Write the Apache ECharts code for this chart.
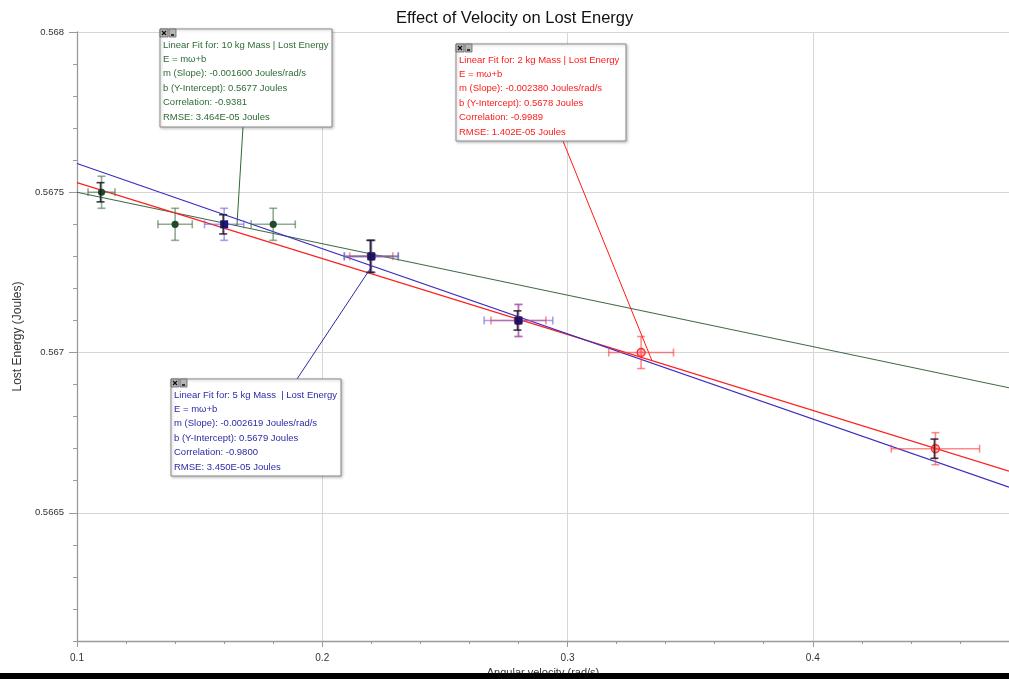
<!DOCTYPE html>
<html><head><meta charset="utf-8">
<script src="https://cdn.jsdelivr.net/npm/echarts@6/dist/echarts.min.js"></script>
<style>html,body{margin:0;padding:0;background:#fff;overflow:hidden}#c{width:1009px;height:679px;}</style>
</head><body><div id="c"></div>
<script>
// ---------- data ----------
const chartTitle = 'Effect of Velocity on Lost Energy';
const xAxisName = 'Angular velocity (rad/s)';
const yAxisName = 'Lost Energy (Joules)';
const yMajorTicks = [0.5665, 0.567, 0.5675, 0.568];
const yMinorTicks = [0.5661, 0.5662, 0.5663, 0.5664, 0.5666, 0.5667, 0.5668, 0.5669,
                     0.5671, 0.5672, 0.5673, 0.5674, 0.5676, 0.5677, 0.5678, 0.5679];
const xMinorTicks = [0.12, 0.14, 0.16, 0.18, 0.22, 0.24, 0.26, 0.28,
                     0.32, 0.34, 0.36, 0.38, 0.42, 0.44, 0.46];

const greenX = [0.11, 0.14, 0.18, 0.22];
const greenY = [0.5675, 0.5674, 0.5674, 0.5673];
const greenXErr = [0.0055, 0.007, 0.009, 0.011];
const greenYErr = [0.00005, 0.00005, 0.00005, 0.00005];

const blueX = [0.16, 0.22, 0.28];
const blueY = [0.5674, 0.5673, 0.5671];
const blueXErr = [0.008, 0.011, 0.014];
const blueYErr = [0.00005, 0.00005, 0.00005];

const redX = [0.22, 0.28, 0.33, 0.45];
const redY = [0.5673, 0.5671, 0.5670, 0.5667];
const redXErr = [0.0088, 0.0112, 0.0132, 0.018];
const redYErr = [0.00005, 0.00005, 0.00005, 0.00005];

const darkX = [0.11, 0.16, 0.22, 0.28, 0.45];
const darkY = [0.5675, 0.5674, 0.5673, 0.5671, 0.5667];
const darkYErr = [0.00003, 0.00003, 0.00005, 0.00003, 0.00003];

const fitX = [0.1, 0.48];
const greenFitY = [0.56750, 0.56689];
const redFitY = [0.56753, 0.56663];
const blueFitY = [0.56759, 0.56658];

const greenNote = ['Linear Fit for: 10 kg Mass | Lost Energy', 'E = m\u03c9+b',
  'm (Slope): -0.001600 Joules/rad/s', 'b (Y-Intercept): 0.5677 Joules',
  'Correlation: -0.9381', 'RMSE: 3.464E-05 Joules'];
const redNote = ['Linear Fit for: 2 kg Mass | Lost Energy', 'E = m\u03c9+b',
  'm (Slope): -0.002380 Joules/rad/s', 'b (Y-Intercept): 0.5678 Joules',
  'Correlation: -0.9989', 'RMSE: 1.402E-05 Joules'];
const blueNote = ['Linear Fit for: 5 kg Mass  | Lost Energy', 'E = m\u03c9+b',
  'm (Slope): -0.002619 Joules/rad/s', 'b (Y-Intercept): 0.5679 Joules',
  'Correlation: -0.9800', 'RMSE: 3.450E-05 Joules'];
const greenNoteTarget = [0.1652, 0.567395];
const redNoteTarget = [0.3344, 0.566975];
const blueNoteTarget = [0.2203, 0.56727];

// ---------- chart ----------
const FONT = '"Liberation Sans", Arial, Helvetica, sans-serif';
const chart = echarts.init(document.getElementById('c'), null, {renderer: 'canvas'});

function zip(xs, ys, exs, eys) {
  return xs.map((x, i) => [x, ys[i], exs ? exs[i] : 0, eys ? eys[i] : 0]);
}

function errRender(barColor, marker, dx) {
  return function (params, api) {
    const x = api.value(0), y = api.value(1), ex = api.value(2), ey = api.value(3);
    const c = api.coord([x, y]);
    const cx = c[0] + (dx || 0), cy = c[1];
    const st = {stroke: barColor, lineWidth: 1.6};
    const cap = 4;
    const ch = [];
    if (ex > 0) {
      const l = api.coord([x - ex, y])[0], r = api.coord([x + ex, y])[0];
      ch.push({type: 'line', shape: {x1: l, y1: cy, x2: r, y2: cy}, style: st});
      ch.push({type: 'line', shape: {x1: l, y1: cy - cap, x2: l, y2: cy + cap}, style: st});
      ch.push({type: 'line', shape: {x1: r, y1: cy - cap, x2: r, y2: cy + cap}, style: st});
    }
    if (ey > 0) {
      const t = api.coord([x, y + ey])[1], b = api.coord([x, y - ey])[1];
      ch.push({type: 'line', shape: {x1: cx, y1: t, x2: cx, y2: b}, style: st});
      ch.push({type: 'line', shape: {x1: cx - cap, y1: t, x2: cx + cap, y2: t}, style: st});
      ch.push({type: 'line', shape: {x1: cx - cap, y1: b, x2: cx + cap, y2: b}, style: st});
    }
    if (marker === 'circle') {
      ch.push({type: 'circle', shape: {cx: cx, cy: cy, r: 3.6}, style: {fill: '#1e4a29'}});
    } else if (marker === 'square') {
      ch.push({type: 'rect', shape: {x: cx - 4, y: cy - 4, width: 8, height: 8}, style: {fill: '#1c1676'}});
    } else if (marker === 'ring') {
      ch.push({type: 'circle', shape: {cx: cx, cy: cy, r: 4}, style: {fill: 'rgba(255,90,90,0.45)', stroke: '#ff2a2a', lineWidth: 1.4}});
    }
    return {type: 'group', children: ch};
  };
}

const option = {
  animation: false,
  backgroundColor: '#ffffff',
  title: {
    text: chartTitle, left: 391, top: 5,
    textStyle: {fontFamily: FONT, fontSize: 16.5, fontWeight: 'normal', color: '#111'}
  },
  grid: {left: 77, top: 32, right: 0, bottom: 38, containLabel: false, outerBoundsMode: 'none'},
  xAxis: [{
    type: 'value', position: 'bottom', min: 0.1, max: 0.48, interval: 0.1,
    name: xAxisName, nameLocation: 'middle', nameGap: 26,
    nameTextStyle: {fontFamily: FONT, fontSize: 11, color: '#333'},
    axisLine: {show: true, lineStyle: {color: '#9a9a9a', width: 1.3}},
    axisTick: {show: true, length: 6, lineStyle: {color: '#9a9a9a'}},
    axisLabel: {show: true, showMaxLabel: false, margin: 12, fontFamily: FONT, fontSize: 10, color: '#333'},
    splitLine: {show: true, lineStyle: {color: '#d6d6d6', width: 1}}
  }, {
    type: 'value', position: 'bottom', min: 0.1, max: 0.48,
    axisLine: {show: false},
    axisTick: {show: true, length: 3, customValues: xMinorTicks, lineStyle: {color: '#9a9a9a'}},
    axisLabel: {show: false},
    splitLine: {show: false}
  }],
  yAxis: [{
    type: 'value', position: 'left', min: 0.5661, max: 0.568,
    name: yAxisName, nameLocation: 'middle', nameGap: 53,
    nameTextStyle: {fontFamily: FONT, fontSize: 12, color: '#333'},
    axisLine: {show: true, lineStyle: {color: '#9a9a9a', width: 1.3}},
    axisTick: {show: true, length: 8, customValues: yMajorTicks, lineStyle: {color: '#9a9a9a'}},
    axisLabel: {show: true, customValues: yMajorTicks, margin: 13, fontFamily: FONT, fontSize: 9.5, color: '#333',
      formatter: v => String(+v.toFixed(5))},
    splitLine: {show: true, lineStyle: {color: '#d6d6d6', width: 1}}
  }, {
    type: 'value', position: 'left', min: 0.5661, max: 0.568,
    axisLine: {show: false},
    axisTick: {show: true, length: 4, customValues: yMinorTicks, lineStyle: {color: '#9a9a9a'}},
    axisLabel: {show: false},
    splitLine: {show: false}
  }],
  series: [
    {type: 'line', name: '10 kg fit', data: zip(fitX, greenFitY).map(d => [d[0], d[1]]), symbol: 'none',
      lineStyle: {color: '#3f6b47', width: 1.1}, z: 2, silent: true},
    {type: 'line', name: '2 kg fit', data: zip(fitX, redFitY).map(d => [d[0], d[1]]), symbol: 'none',
      lineStyle: {color: '#ff1e1e', width: 1.1}, z: 2, silent: true},
    {type: 'line', name: '5 kg fit', data: zip(fitX, blueFitY).map(d => [d[0], d[1]]), symbol: 'none',
      lineStyle: {color: '#3a2dbf', width: 1.1}, z: 2, silent: true},
    {type: 'custom', name: '2 kg', renderItem: errRender('rgba(255,60,60,0.6)', 'ring'),
      data: zip(redX, redY, redXErr, redYErr), z: 3, silent: true},
    {type: 'custom', name: '10 kg', renderItem: errRender('rgba(70,115,80,0.6)', 'circle'),
      data: zip(greenX, greenY, greenXErr, greenYErr), z: 4, silent: true},
    {type: 'custom', name: '5 kg', renderItem: errRender('rgba(120,95,220,0.6)', 'square'),
      data: zip(blueX, blueY, blueXErr, blueYErr), z: 5, silent: true},
    {type: 'custom', name: 'dark', renderItem: errRender('rgba(25,25,35,0.85)', null, -1),
      data: zip(darkX, darkY, null, darkYErr), z: 6, silent: true}
  ]
};
chart.setOption(option);

function noteGraphic(lines, color, box, anchor, target) {
  const tp = chart.convertToPixel({gridIndex: 0}, target);
  const [L, T, W, H] = box;
  const els = [];
  els.push({type: 'line', shape: {x1: anchor[0], y1: anchor[1], x2: tp[0], y2: tp[1]},
    style: {stroke: color, lineWidth: 1}, z: 50});
  els.push({type: 'rect', shape: {x: L, y: T, width: W, height: H},
    style: {fill: '#ffffff', stroke: '#8c8c8c', lineWidth: 1,
      shadowBlur: 3, shadowColor: 'rgba(0,0,0,0.25)', shadowOffsetX: 1, shadowOffsetY: 1}, z: 51});
  lines.forEach((t, i) => {
    els.push({type: 'text', x: L + 3, y: T + 16 + i * 14.4, z: 52,
      style: {text: t, fill: color, font: '9.5px ' + FONT, verticalAlign: 'middle', textVerticalAlign: 'middle'}});
  });
  // window icons
  els.push({type: 'rect', shape: {x: L, y: T, width: 8, height: 8}, style: {fill: '#b5b5b5', stroke: '#666', lineWidth: 0.8}, z: 53});
  els.push({type: 'line', shape: {x1: L + 2, y1: T + 2, x2: L + 6, y2: T + 6}, style: {stroke: '#111', lineWidth: 1.2}, z: 54});
  els.push({type: 'line', shape: {x1: L + 6, y1: T + 2, x2: L + 2, y2: T + 6}, style: {stroke: '#111', lineWidth: 1.2}, z: 54});
  els.push({type: 'rect', shape: {x: L + 9, y: T, width: 7, height: 8}, style: {fill: '#b5b5b5', stroke: '#666', lineWidth: 0.8}, z: 53});
  els.push({type: 'rect', shape: {x: L + 11, y: T + 5, width: 3, height: 2}, style: {fill: '#333'}, z: 54});
  return els;
}

const graphics = []
  .concat(noteGraphic(greenNote, '#2f6b36', [160, 29, 172, 98], [243, 127], greenNoteTarget))
  .concat(noteGraphic(redNote, '#ff1a1a', [456, 44, 170, 97], [563, 141], redNoteTarget))
  .concat(noteGraphic(blueNote, '#2b2ba6', [171, 379, 170, 97], [297, 379], blueNoteTarget));
graphics.push({type: 'rect', shape: {x: 0, y: 673, width: 1009, height: 6}, style: {fill: '#000'}, z: 100});

chart.setOption({graphic: {elements: graphics}});
</script>
</body></html>
